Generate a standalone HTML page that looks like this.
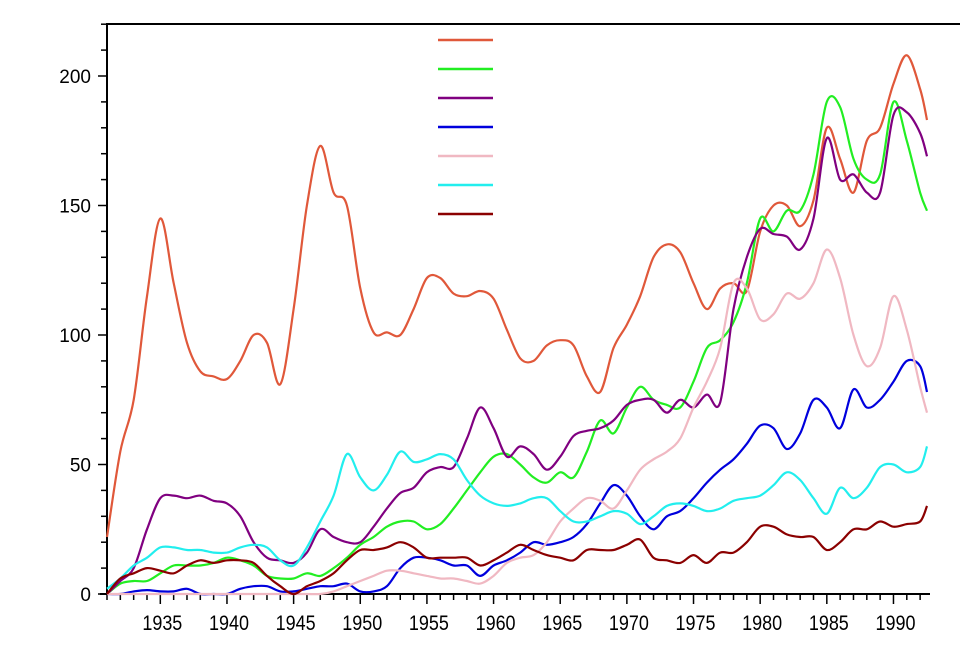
<!DOCTYPE html>
<html><head><meta charset="utf-8"><style>
body{margin:0;background:#fff;}
svg{display:block;font-family:"Liberation Sans",sans-serif;}
</style></head><body>
<svg id="c" width="960" height="670" viewBox="0 0 960 670" xmlns="http://www.w3.org/2000/svg"></svg>
<script>
const S=document.getElementById('c');const NS='http://www.w3.org/2000/svg';
function el(t,a,txt){const e=document.createElementNS(NS,t);for(const k in a)e.setAttribute(k,a[k]);if(txt!==undefined)e.textContent=txt;S.appendChild(e);return e;}
const X=y=>107+(y-1931)*13.33, Y=v=>594-v*2.59;
const series=[
['#e0583a',[22,55,75,115,145,120,97,86,84,83,90,100,97,81,110,150,173,155,150,118,101,101,100,110,122,122,116,115,117,114,102,91,90,96,98,96,84,78,95,104,115,130,135,132,120,110,118,120,117,140,150,150,142,152,180,168,155,175,180,197,208,195],183],
['#22ee22',[0,4,5,5,8,11,11,11,12,14,13,11,7,6,6,8,7,10,14,19,22,26,28,28,25,27,33,40,47,53,54,50,45,43,47,45,55,67,62,72,80,75,73,72,82,95,98,105,120,145,140,148,148,162,190,188,168,160,162,190,175,155],148],
['#800080',[0,5,10,25,37,38,37,38,36,35,30,20,14,13,12,16,25,22,20,20,26,33,39,41,47,49,49,60,72,64,53,57,54,48,53,61,63,64,67,73,75,75,70,75,72,77,74,110,130,141,139,138,133,145,176,160,162,155,155,185,186,178],169],
['#0000dd',[0,0,1,1.5,1,1,2,0,0,0,2,3,3,1,1,2,3,3,4,1,1,3,10,14,14,13,11,11,7,11,13,16,20,19,20,22,27,35,42,38,30,25,30,32,37,43,48,52,58,65,64,56,62,75,72,64,79,72,75,82,90,88],78],
['#f0b8c2',[0,0,0,0,0,0,0,0,0,0,0,0,0,0,0,0,0,1,3,5,7,9,9,8,7,6,6,5,4,7,12,14,15,20,28,33,37,36,33,40,48,52,55,60,72,82,95,120,118,106,108,116,114,120,133,122,100,88,95,115,102,80],70],
['#22eeee',[2,6,11,14,18,18,17,17,16,16,18,19,18,13,11,18,28,38,54,45,40,46,55,51,52,54,52,44,38,35,34,35,37,37,32,28,28,30,32,31,27,30,34,35,34,32,33,36,37,38,42,47,44,37,31,41,37,41,49,50,47,49],57],
['#8b0000',[0,6,8,10,9,8,11,13,12,13,13,12,7,3,0,3,5,8,13,17,17,18,20,18,14,14,14,14,11,13,16,19,17,15,14,13,17,17,17,19,21,14,13,12,15,12,16,16,20,26,26,23,22,22,17,20,25,25,28,26,27,28],34]
];
el('line',{x1:107,y1:24,x2:960,y2:24,stroke:'#000','stroke-width':2});
el('line',{x1:107,y1:23,x2:107,y2:595,stroke:'#000','stroke-width':2});
el('line',{x1:100,y1:594,x2:930,y2:594,stroke:'#000','stroke-width':2});
for(let v=0;v<=220;v+=10){const y=Y(v);const maj=v%50==0;el('line',{x1:maj?98:101,y1:y,x2:107,y2:y,stroke:'#000','stroke-width':1.5});if(maj)el('text',{x:91,y:y+7,'text-anchor':'end','font-size':19},v);}
for(let yr=1931;yr<=1993;yr++){const x=X(yr);if(x>928)break;const maj=yr%5==0;el('line',{x1:x,y1:594,x2:x,y2:maj?604:600,stroke:'#000','stroke-width':1.5});if(maj)el('text',{x:x+2,y:630,'text-anchor':'middle','font-size':21,'textLength':40,'lengthAdjust':'spacingAndGlyphs'},yr);}
series.forEach((s,i)=>{const pts=s[1].map((v,k)=>[X(1931+k),Y(v)]);pts.push([927,Y(s[2])]);
let d='M'+pts[0][0].toFixed(1)+','+pts[0][1].toFixed(1);
for(let k=0;k<pts.length-1;k++){const p0=pts[Math.max(0,k-1)],p1=pts[k],p2=pts[k+1],p3=pts[Math.min(pts.length-1,k+2)];
const c1=[p1[0]+(p2[0]-p0[0])/6,p1[1]+(p2[1]-p0[1])/6],c2=[p2[0]-(p3[0]-p1[0])/6,p2[1]-(p3[1]-p1[1])/6];
d+='C'+c1.map(n=>n.toFixed(1)).join(',')+' '+c2.map(n=>n.toFixed(1)).join(',')+' '+p2.map(n=>n.toFixed(1)).join(',');}
el('path',{d:d,fill:'none',stroke:s[0],'stroke-width':2.2,'stroke-linejoin':'round'});
el('line',{x1:438,y1:40+i*29,x2:493,y2:40+i*29,stroke:s[0],'stroke-width':2.5});});
</script>
</body></html>
